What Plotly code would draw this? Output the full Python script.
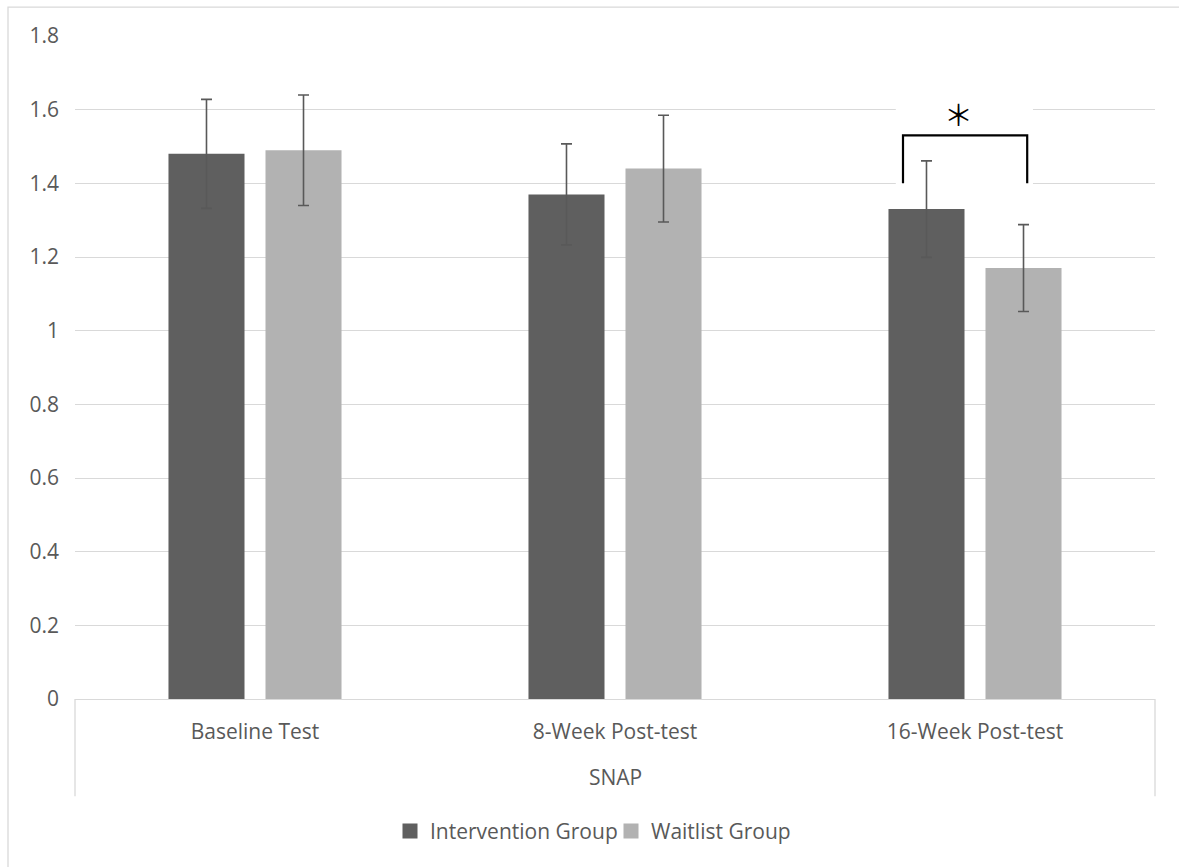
import plotly.graph_objects as go

# ---------------- data ----------------
categories = ["Baseline Test", "8-Week Post-test", "16-Week Post-test"]
group_label = "SNAP"
series_names = ["Intervention Group", "Waitlist Group"]
intervention = [1.48, 1.37, 1.33]
intervention_err = [0.148, 0.137, 0.131]
waitlist = [1.49, 1.44, 1.17]
waitlist_err = [0.150, 0.145, 0.118]
y_ticks = [0, 0.2, 0.4, 0.6, 0.8, 1.0, 1.2, 1.4, 1.6, 1.8]

# significance bracket (16-week comparison)
sig_x = [1.80, 2.145]
sig_y_top = 1.53
sig_y_leg = 1.40
sig_text = "＊"
sig_text_pos = (1.953, 1.59)

# ---------------- styling ----------------
W, H = 1179, 867
ML, MR, MT = 75, 24, 36.4
PLOT_BOTTOM = 698.8
MB = H - PLOT_BOTTOM
PW = W - ML - MR
PH = PLOT_BOTTOM - MT

def px_x(px):
    return (px - ML) / PW

def px_y(py):
    return (PLOT_BOTTOM - py) / PH

FONT = "Open Sans"
TXT = "#595959"
GRID = "#d9d9d9"
C_INT = "#5f5f5f"
C_WAIT = "#b2b2b2"
ERR = "#595959"

fig = go.Figure()
fig.add_trace(go.Bar(
    x=categories, y=intervention, name=series_names[0], marker_color=C_INT,
    marker_line_width=0, showlegend=False, hoverinfo="skip",
    error_y=dict(type="data", array=intervention_err, color=ERR, thickness=1.6, width=5.5),
))
fig.add_trace(go.Bar(
    x=categories, y=waitlist, name=series_names[1], marker_color=C_WAIT,
    marker_line_width=0, showlegend=False, hoverinfo="skip",
    error_y=dict(type="data", array=waitlist_err, color=ERR, thickness=1.6, width=5.5),
))
# legend entries
for nm, col in zip(series_names, [C_INT, C_WAIT]):
    fig.add_trace(go.Scatter(
        x=[None], y=[None], mode="markers", name=nm,
        marker=dict(symbol="square", size=15, color=col),
    ))

shapes = []
# white backing behind the bracket (breaks gridlines)
shapes.append(dict(type="rect", xref="x", yref="y", x0=1.78, x1=2.161, y0=1.385, y1=1.62,
                   fillcolor="white", line_width=0, layer="between"))
# bracket
shapes.append(dict(type="path", xref="x", yref="y",
                   path=f"M {sig_x[0]},{sig_y_leg} L {sig_x[0]},{sig_y_top} L {sig_x[1]},{sig_y_top} L {sig_x[1]},{sig_y_leg}",
                   line=dict(color="black", width=2.2), layer="above"))
# category-group dividers
for xp in [0, 1]:
    shapes.append(dict(type="line", xref="paper", yref="paper", x0=xp, x1=xp,
                       y0=0, y1=px_y(796), line=dict(color=GRID, width=1.3)))
# outer chart border (left & top visible)
shapes.append(dict(type="path", xref="paper", yref="paper",
                   path=f"M {px_x(8)},{px_y(870)} L {px_x(8)},{px_y(7.5)} L {px_x(1182)},{px_y(7.5)}",
                   line=dict(color=GRID, width=1.3)))

annotations = [
    dict(x=sig_text_pos[0], y=sig_text_pos[1], xref="x", yref="y",
         text=sig_text, showarrow=False,
         font=dict(family="Noto Sans CJK SC", size=29, color="black"),
         yanchor="middle", xanchor="center"),
    dict(x=0.5, y=px_y(776.5), xref="paper", yref="paper", text=group_label,
         showarrow=False, font=dict(family=FONT, size=21, color=TXT), yanchor="middle"),
]

fig.update_layout(
    width=W, height=H,
    margin=dict(l=ML, r=MR, t=MT, b=MB, pad=0),
    paper_bgcolor="white", plot_bgcolor="white",
    barmode="group", bargap=0.461, bargroupgap=0.2165,
    font=dict(family=FONT, size=21, color=TXT),
    shapes=shapes, annotations=annotations,
    legend=dict(orientation="h", x=px_x(390), y=px_y(831), xanchor="left", yanchor="middle",
                font=dict(family=FONT, size=21, color=TXT), bgcolor="rgba(0,0,0,0)",
                entrywidth=176, entrywidthmode="pixels", itemclick=False),
    xaxis=dict(type="category", showline=True, linecolor=GRID, linewidth=1.3, ticks="",
               showgrid=False, zeroline=False, tickfont=dict(family=FONT, size=21, color=TXT),
               ticklabelstandoff=14),
    yaxis=dict(range=[0, 1.8], tickvals=y_ticks, showline=False, showgrid=True,
               gridcolor=GRID, gridwidth=1.3, zeroline=False, ticks="",
               tickfont=dict(family=FONT, size=21, color=TXT), ticklabelstandoff=15),
)

fig.write_html("out.html", config={"displayModeBar": False},
               post_script="document.body.style.margin='0';")
